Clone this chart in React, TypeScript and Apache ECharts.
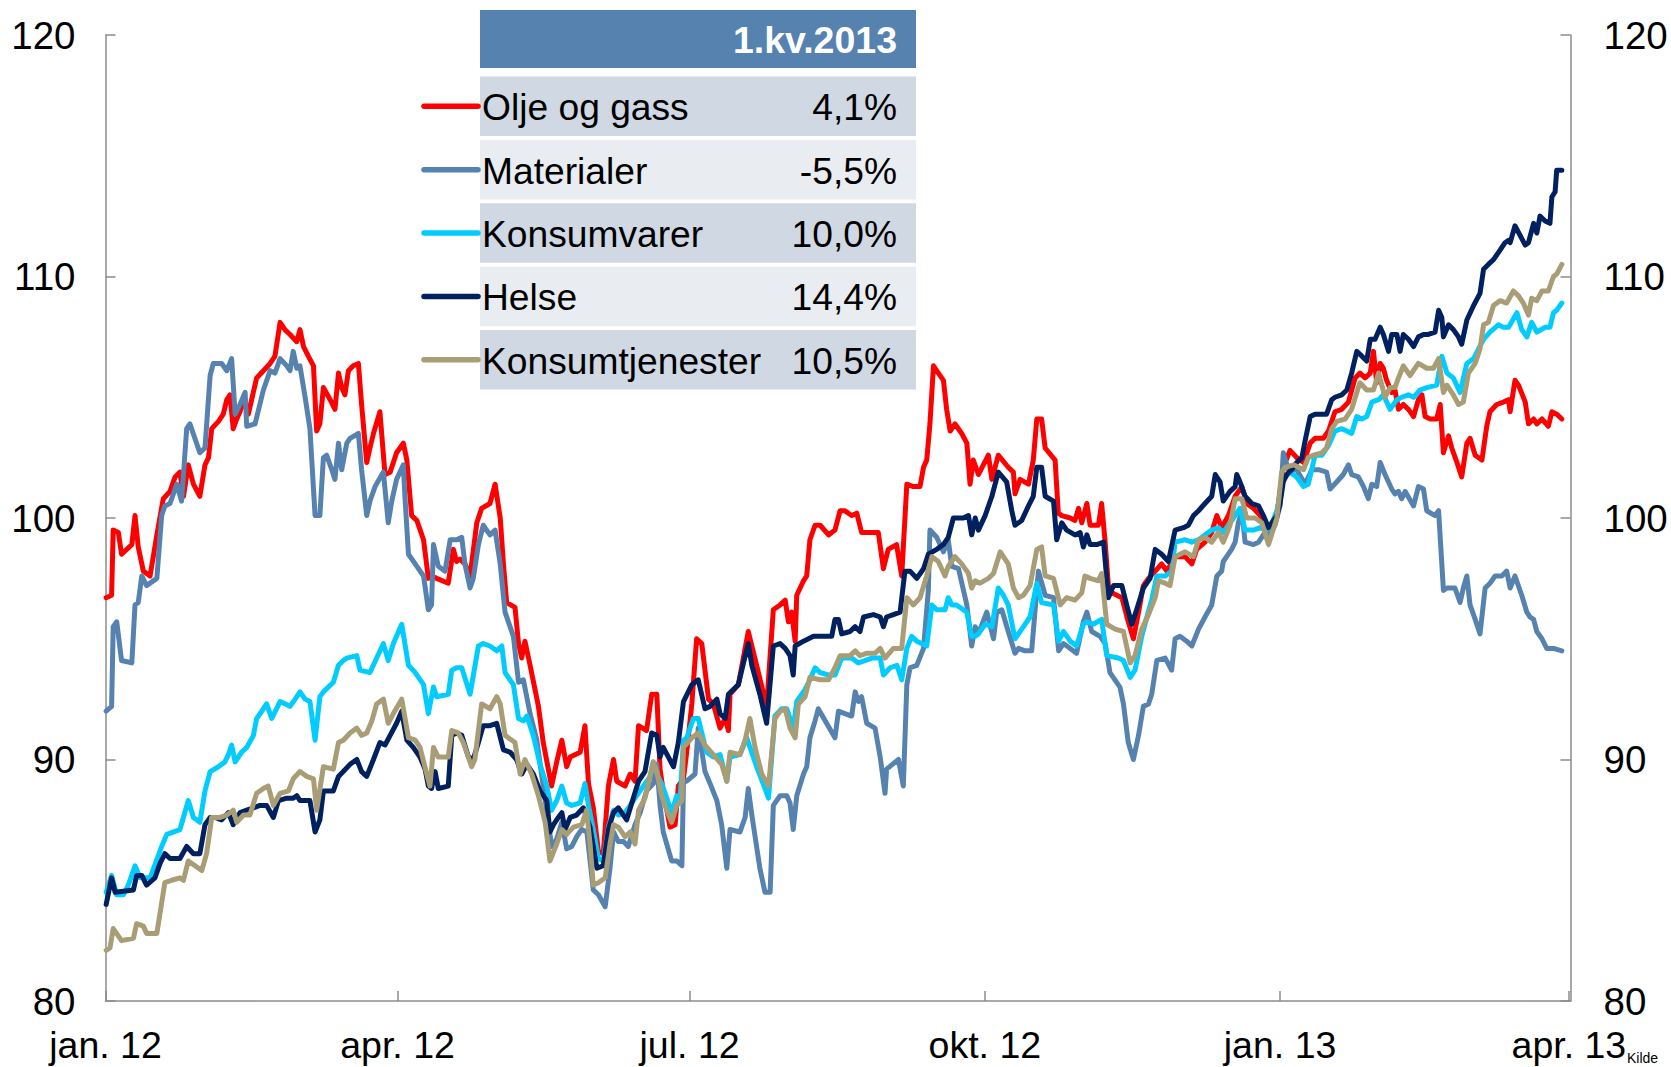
import React, { useEffect, useRef } from 'react';
import * as echarts from 'echarts';

const FONT = '"Liberation Sans", Arial, Helvetica, sans-serif';

// ---- table / legend content ----
const seriesNames = ['Olje og gass', 'Materialer', 'Konsumvarer', 'Helse', 'Konsumtjenester'];
const seriesChanges = ['4,1%', '-5,5%', '10,0%', '14,4%', '10,5%'];
const seriesColors = ['#FF0000', '#5682B0', '#00CCFF', '#002060', '#A89D75'];
const tableHeader = '1.kv.2013';
const sourceNote = 'Kilde';

// ---- axes (x = days since 1 Jan 2012) ----
const xTickDays = [0, 91, 182, 274, 366, 456];
const xTickLabels = ['jan. 12', 'apr. 12', 'jul. 12', 'okt. 12', 'jan. 13', 'apr. 13'];
const xMaxDay = 456.5;
const yMin = 80;
const yMax = 120;
const yStep = 10;

// ---- series: [day since 1 Jan 2012, index value] ----
const oljeOgGass = [
  [0.2, 96.7], [1.9, 96.8], [2.4, 99.5], [4.0, 99.4], [5.0, 98.5], [8.2, 98.9], [9.2, 100.1], [10.2, 98.8], [11.8, 97.8], [13.9, 97.6],
  [16.0, 99.3], [18.0, 100.8], [20.1, 101.1], [21.7, 101.7], [23.2, 101.9], [24.3, 100.9], [25.8, 102.2], [27.4, 101.4], [29.4, 100.9], [31.0, 102.2],
  [32.1, 102.5], [33.1, 103.7], [35.2, 104.0], [36.7, 104.3], [37.8, 104.9], [38.8, 105.1], [39.8, 103.7], [40.9, 104.1], [41.9, 104.4], [43.0, 104.9],
  [44.5, 104.3], [47.1, 105.8], [49.2, 106.1], [51.3, 106.4], [52.8, 106.7], [54.4, 108.1], [55.9, 107.8], [57.5, 107.6], [59.6, 107.3], [60.6, 107.8],
  [61.7, 107.1], [63.2, 106.7], [64.8, 106.3], [65.8, 103.6], [66.8, 103.9], [67.9, 105.4], [70.0, 104.9], [71.5, 104.5], [72.6, 106.0], [73.6, 105.4],
  [74.6, 105.1], [75.7, 106.1], [77.2, 106.3], [78.8, 106.4], [79.8, 104.7], [81.4, 102.3], [82.4, 102.9], [83.5, 103.5], [85.5, 104.4], [87.1, 101.8],
  [88.7, 101.9], [90.7, 102.7], [92.8, 103.1], [93.9, 102.4], [95.4, 100.1], [97.0, 99.9], [99.1, 99.1], [100.6, 97.5], [101.6, 97.6], [103.2, 97.5],
  [106.8, 97.3], [108.4, 98.7], [109.4, 98.2], [110.5, 98.3], [112.0, 98.1], [113.6, 97.6], [115.7, 99.8], [117.2, 100.4], [119.8, 100.6], [121.4, 101.4],
  [123.0, 100.0], [124.0, 98.1], [125.0, 96.5], [127.6, 96.3], [128.7, 94.8], [129.7, 94.2], [130.7, 94.9], [132.3, 93.9], [134.9, 92.2], [136.4, 90.7],
  [139.0, 88.9], [140.6, 89.9], [142.2, 90.8], [143.7, 89.7], [144.8, 90.1], [147.9, 90.3], [149.4, 91.4], [150.5, 89.0], [152.0, 88.0], [153.6, 86.2],
  [155.1, 86.1], [156.7, 88.9], [158.3, 90.0], [159.3, 89.1], [161.9, 88.9], [163.5, 89.4], [165.0, 89.1], [166.1, 91.4], [168.6, 91.2], [170.2, 92.7],
  [171.8, 92.7], [172.8, 89.6], [173.8, 88.7], [175.9, 87.2], [177.5, 87.3], [178.5, 88.9], [180.1, 89.2], [181.1, 90.3], [182.7, 92.3], [184.2, 95.0],
  [185.8, 94.8], [187.9, 92.5], [189.4, 92.3], [191.5, 91.3], [193.1, 91.7], [194.1, 91.2], [194.6, 92.7], [197.2, 93.1], [199.3, 94.6], [200.3, 95.3],
  [202.9, 93.9], [206.0, 92.2], [208.1, 96.2], [210.2, 96.4], [211.8, 96.6], [212.8, 95.7], [213.8, 96.1], [214.9, 94.9], [215.4, 96.8], [217.5, 97.4],
  [218.5, 97.6], [219.5, 99.1], [221.1, 99.7], [222.7, 99.7], [225.3, 99.3], [227.3, 99.5], [228.9, 100.3], [230.4, 100.3], [232.5, 100.1], [234.1, 100.2],
  [235.6, 99.4], [238.8, 99.4], [240.8, 99.4], [242.4, 97.9], [243.9, 98.7], [246.5, 98.9], [248.1, 97.6], [249.7, 101.4], [251.7, 101.3], [253.8, 101.3],
  [254.9, 102.1], [255.9, 102.4], [256.9, 103.9], [258.0, 106.3], [259.0, 106.1], [261.1, 105.7], [262.1, 104.5], [263.2, 103.6], [264.7, 103.9], [266.8, 103.5],
  [268.4, 103.1], [269.4, 101.4], [270.4, 102.4], [272.0, 101.8], [275.1, 102.6], [276.2, 101.6], [278.2, 102.6], [281.3, 102.1], [282.9, 101.9], [283.4, 101.0],
  [285.0, 101.6], [287.6, 101.4], [289.1, 102.4], [290.2, 104.1], [291.7, 104.1], [292.8, 102.9], [295.9, 102.4], [296.9, 100.2], [298.0, 100.1], [300.6, 100.0],
  [302.1, 99.9], [303.2, 100.4], [304.2, 99.8], [305.8, 100.6], [306.8, 99.7], [309.4, 99.7], [310.4, 100.6], [311.5, 99.0], [312.5, 97.2], [313.6, 96.9],
  [316.7, 96.7], [318.7, 95.7], [320.3, 95.0], [321.9, 96.1], [323.4, 97.2], [325.0, 97.5], [327.1, 97.8], [329.1, 98.1], [330.7, 97.8], [333.3, 98.4],
  [336.4, 98.4], [338.5, 98.1], [340.0, 98.7], [342.6, 99.0], [344.7, 99.4], [346.3, 100.1], [347.8, 99.6], [349.9, 100.1], [352.0, 100.9], [354.1, 101.3],
  [355.6, 100.6], [357.7, 100.4], [359.8, 100.1], [361.3, 99.7], [362.4, 99.5], [365.0, 100.1], [367.0, 102.1], [369.1, 102.8], [371.2, 102.5], [373.3, 102.3],
  [375.4, 103.1], [376.9, 103.3], [379.5, 103.3], [381.1, 103.6], [383.1, 104.4], [385.2, 104.5], [387.3, 104.8], [389.4, 105.8], [390.9, 106.0], [392.5, 105.8],
  [394.1, 106.0], [395.1, 106.9], [396.1, 105.6], [397.2, 106.4], [398.2, 106.2], [399.2, 105.7], [400.8, 105.2], [401.8, 105.3], [402.9, 104.5], [404.4, 104.7],
  [406.0, 104.5], [407.6, 104.2], [409.1, 104.9], [410.2, 105.1], [411.2, 104.2], [412.8, 104.1], [414.8, 104.1], [415.9, 104.7], [416.9, 102.7], [418.5, 103.4],
  [419.5, 102.9], [421.1, 102.3], [422.6, 101.7], [424.2, 103.1], [425.2, 103.3], [426.8, 102.6], [428.9, 102.4], [430.4, 103.8], [431.4, 104.4], [433.5, 104.7],
  [435.6, 104.8], [437.2, 104.9], [437.7, 104.4], [439.2, 105.7], [440.3, 105.5], [442.4, 104.8], [443.4, 103.9], [445.0, 104.1], [446.0, 103.9], [447.6, 104.1],
  [449.6, 103.8], [450.7, 104.4], [452.2, 104.3], [453.8, 104.1],
];

const materialer = [
  [0.2, 92.0], [1.9, 92.2], [2.4, 95.5], [3.5, 95.7], [5.0, 94.1], [8.2, 94.0], [9.2, 96.4], [10.2, 96.5], [11.3, 97.6], [12.8, 97.2],
  [16.0, 97.5], [17.5, 100.1], [18.5, 100.5], [20.1, 100.6], [22.2, 101.4], [23.7, 100.7], [25.3, 103.7], [26.3, 103.9], [29.4, 102.7], [31.0, 102.9],
  [32.6, 105.9], [33.6, 106.4], [36.2, 106.4], [37.8, 106.1], [39.3, 106.6], [40.4, 104.3], [41.9, 104.7], [43.5, 105.2], [44.0, 103.8], [46.6, 103.9],
  [49.2, 105.3], [51.3, 106.1], [52.8, 106.0], [54.4, 106.6], [56.5, 106.3], [57.5, 106.1], [58.5, 106.9], [59.6, 106.2], [60.6, 106.3], [62.2, 105.0],
  [63.7, 103.7], [65.3, 100.1], [66.8, 100.1], [67.9, 102.5], [68.9, 102.6], [70.5, 102.0], [71.5, 101.6], [72.6, 103.1], [73.6, 102.0], [75.2, 103.1],
  [76.2, 103.3], [78.8, 103.5], [79.8, 102.0], [81.4, 100.1], [82.4, 100.7], [84.0, 101.3], [86.6, 101.9], [88.1, 99.8], [89.2, 100.7], [90.7, 101.6],
  [92.8, 102.2], [93.3, 100.9], [94.4, 98.5], [96.5, 98.1], [99.1, 97.6], [100.6, 96.2], [101.6, 96.4], [102.2, 98.9], [103.7, 98.0], [105.8, 97.8],
  [107.4, 99.1], [109.4, 99.1], [111.0, 99.2], [112.0, 98.1], [113.6, 97.1], [114.6, 97.5], [116.2, 98.9], [117.7, 99.7], [119.8, 99.3], [121.4, 99.5],
  [123.0, 98.1], [124.5, 96.1], [127.1, 95.1], [128.7, 93.2], [130.2, 93.3], [132.3, 91.9], [134.4, 90.8], [136.4, 88.9], [138.0, 87.4], [139.0, 86.4],
  [140.6, 86.7], [142.2, 87.4], [143.7, 86.3], [145.3, 86.4], [146.8, 86.8], [148.4, 87.1], [150.0, 87.0], [152.0, 84.6], [153.6, 84.4], [155.7, 83.9],
  [157.2, 85.5], [158.3, 87.0], [159.8, 86.6], [161.4, 86.6], [162.9, 86.4], [165.0, 87.3], [166.6, 87.8], [168.6, 88.7], [170.7, 89.0], [171.8, 89.8],
  [172.8, 88.1], [173.8, 87.0], [176.4, 85.8], [178.0, 85.8], [179.6, 85.6], [180.1, 89.1], [181.1, 89.1], [183.7, 89.4], [184.7, 91.3], [186.8, 89.5],
  [188.4, 89.0], [190.5, 88.3], [192.0, 87.3], [193.6, 85.5], [194.6, 87.1], [197.7, 87.0], [199.3, 87.6], [200.3, 88.8], [201.4, 87.7], [203.9, 85.5],
  [205.5, 84.5], [207.1, 84.5], [208.1, 88.1], [210.2, 88.5], [212.3, 88.5], [213.3, 88.2], [214.3, 87.1], [215.4, 88.5], [217.5, 89.4], [218.5, 89.7],
  [219.5, 90.9], [221.1, 91.6], [222.1, 92.1], [224.7, 91.5], [227.3, 90.9], [228.4, 92.0], [230.4, 91.9], [232.5, 91.8], [233.6, 92.8], [234.6, 92.4],
  [235.6, 92.6], [237.2, 91.5], [239.8, 91.3], [241.4, 90.1], [242.9, 88.6], [243.4, 89.6], [247.1, 90.0], [248.6, 88.9], [249.7, 93.1], [250.7, 93.8],
  [252.8, 93.9], [254.9, 94.6], [256.4, 97.0], [256.9, 99.5], [259.0, 99.2], [261.1, 98.6], [262.6, 99.1], [263.7, 98.0], [265.8, 97.9], [268.4, 96.4],
  [269.9, 94.7], [271.0, 95.5], [272.0, 95.2], [274.6, 96.1], [276.7, 95.0], [277.7, 96.1], [279.3, 96.2], [281.3, 95.3], [283.4, 94.4], [284.5, 94.6],
  [286.5, 94.5], [288.6, 94.5], [290.7, 97.8], [292.8, 96.8], [295.4, 96.7], [297.0, 94.5], [298.5, 94.8], [300.6, 94.6], [302.6, 94.4], [304.7, 95.7],
  [305.8, 96.1], [307.3, 95.3], [309.9, 95.1], [311.5, 94.8], [313.0, 93.6], [316.1, 93.0], [317.2, 92.3], [318.7, 90.7], [320.3, 90.0], [321.9, 91.0],
  [323.4, 92.2], [325.0, 92.3], [326.0, 92.7], [327.6, 94.1], [330.2, 94.2], [332.2, 93.7], [333.3, 95.0], [334.8, 95.1], [336.9, 94.9], [338.5, 94.7],
  [340.6, 95.4], [342.6, 95.9], [344.7, 96.4], [346.3, 97.6], [347.8, 97.8], [348.3, 98.2], [350.9, 98.7], [352.0, 99.0], [353.0, 99.8], [354.1, 100.3],
  [355.1, 99.0], [357.7, 98.9], [359.3, 99.0], [361.3, 99.4], [362.9, 99.3], [364.4, 99.7], [366.0, 100.5], [367.0, 102.7], [368.6, 102.0], [371.2, 102.0],
  [373.8, 101.4], [375.9, 102.0], [378.0, 102.0], [380.5, 101.9], [381.6, 101.2], [383.7, 101.5], [385.7, 101.8], [387.3, 102.2], [388.3, 101.8], [390.4, 101.7],
  [392.0, 101.3], [393.5, 100.8], [394.6, 101.4], [396.1, 101.3], [397.2, 102.3], [398.7, 101.8], [400.8, 101.2], [401.8, 101.0], [402.9, 101.1], [403.9, 100.8],
  [405.0, 101.1], [407.6, 100.5], [409.1, 101.3], [410.7, 101.2], [411.7, 100.3], [414.3, 100.1], [415.4, 100.3], [416.9, 97.0], [418.0, 97.1], [420.5, 97.1],
  [422.1, 96.5], [423.1, 97.1], [424.2, 97.6], [425.2, 96.4], [426.8, 95.8], [428.3, 95.2], [429.9, 97.1], [431.4, 97.3], [433.0, 97.6], [435.1, 97.6],
  [436.6, 97.8], [437.7, 97.1], [439.2, 97.6], [441.3, 96.8], [442.9, 96.1], [443.9, 95.9], [445.0, 95.8], [446.0, 95.3], [447.6, 95.0], [449.1, 94.6],
  [451.2, 94.6], [453.8, 94.5],
];

const konsumvarer = [
  [0.2, 84.5], [1.9, 85.2], [3.5, 84.4], [5.6, 84.4], [7.1, 84.8], [9.2, 85.6], [10.8, 85.1], [13.9, 85.1], [17.5, 86.4], [19.1, 86.9],
  [23.2, 87.1], [25.8, 88.3], [27.4, 87.6], [29.4, 87.4], [31.0, 88.7], [32.6, 89.5], [35.2, 89.7], [37.2, 89.9], [38.3, 90.2], [39.3, 90.6],
  [40.4, 89.9], [42.4, 90.3], [44.0, 90.5], [46.1, 91.0], [47.1, 91.7], [48.7, 92.0], [50.2, 92.3], [51.8, 91.7], [54.4, 92.4], [57.5, 92.2],
  [59.1, 92.5], [60.6, 92.8], [62.2, 92.5], [63.7, 92.4], [65.3, 90.8], [66.8, 92.6], [67.9, 92.8], [71.0, 93.2], [72.6, 93.9], [74.1, 94.1],
  [75.2, 94.2], [78.3, 94.3], [79.3, 93.7], [82.4, 93.6], [84.5, 94.2], [86.6, 94.8], [88.1, 94.1], [89.7, 94.8], [92.3, 95.6], [94.4, 93.9],
  [96.5, 93.6], [99.1, 93.1], [100.6, 91.9], [102.2, 93.0], [103.2, 92.6], [106.8, 92.7], [107.9, 93.7], [109.4, 93.8], [111.0, 93.8], [113.6, 92.7],
  [116.2, 94.7], [117.7, 94.8], [119.8, 94.7], [121.9, 94.5], [123.5, 94.7], [124.5, 93.6], [127.1, 93.1], [128.7, 91.7], [130.2, 91.6], [131.3, 91.8],
  [133.3, 91.0], [135.4, 89.8], [137.5, 88.9], [139.0, 87.9], [140.6, 88.3], [142.2, 88.9], [143.7, 88.2], [145.3, 88.1], [147.9, 88.2], [149.4, 89.0],
  [150.5, 88.1], [152.0, 87.1], [153.6, 85.9], [155.1, 85.8], [156.7, 87.2], [158.3, 87.9], [159.8, 87.7], [161.9, 87.8], [163.5, 88.1], [165.5, 88.5],
  [167.6, 88.9], [169.7, 89.3], [170.7, 89.9], [171.8, 89.4], [173.3, 89.0], [174.9, 88.4], [176.4, 87.8], [178.0, 88.5], [179.0, 88.2], [180.1, 90.8],
  [181.1, 90.9], [183.2, 91.7], [184.7, 91.7], [187.3, 90.3], [189.4, 90.1], [191.5, 90.2], [193.6, 89.1], [194.6, 90.1], [197.7, 90.2], [199.8, 90.9],
  [202.9, 89.7], [205.5, 88.8], [206.6, 88.4], [208.6, 91.8], [210.7, 92.1], [212.3, 92.1], [214.3, 91.3], [215.4, 92.4], [218.0, 92.9], [219.5, 93.3],
  [221.1, 93.8], [222.7, 93.6], [225.3, 93.5], [227.3, 93.5], [229.4, 94.2], [232.5, 94.2], [234.6, 94.0], [238.8, 94.2], [241.4, 94.2], [242.4, 93.5],
  [244.5, 93.8], [246.6, 93.9], [248.1, 93.3], [249.7, 94.6], [251.2, 95.1], [252.8, 94.9], [255.9, 94.7], [257.5, 96.4], [259.0, 96.2], [261.6, 96.2],
  [262.6, 96.7], [263.7, 96.4], [265.2, 96.4], [268.4, 96.1], [269.9, 95.1], [271.0, 95.1], [272.0, 95.2], [274.1, 95.6], [276.2, 95.5], [278.2, 97.1],
  [279.8, 96.8], [281.3, 96.4], [283.4, 95.0], [285.5, 95.4], [288.1, 95.9], [290.2, 97.3], [291.7, 96.5], [295.4, 96.4], [297.0, 94.9], [298.5, 95.3],
  [300.6, 94.9], [302.6, 94.7], [304.7, 95.6], [305.8, 95.7], [307.8, 95.6], [310.4, 95.8], [312.0, 94.3], [315.6, 94.2], [317.2, 94.1], [319.3, 93.4],
  [320.8, 93.7], [322.9, 95.1], [324.5, 95.9], [326.0, 96.6], [327.6, 97.6], [330.2, 97.6], [332.2, 97.8], [333.3, 99.0], [336.4, 99.1], [338.5, 99.0],
  [340.6, 99.1], [342.6, 99.3], [344.7, 99.5], [346.8, 99.6], [348.3, 99.4], [349.9, 99.7], [352.0, 100.1], [353.5, 100.4], [355.1, 99.5], [357.7, 99.5],
  [359.8, 99.6], [361.9, 99.5], [362.9, 99.6], [365.0, 100.3], [367.0, 101.6], [369.1, 101.9], [371.2, 101.7], [373.3, 101.3], [374.8, 101.4], [376.9, 102.6],
  [379.0, 102.6], [381.1, 103.0], [383.1, 103.6], [385.2, 103.7], [386.8, 103.6], [388.3, 103.5], [389.9, 104.2], [391.5, 104.1], [393.0, 104.2], [394.6, 104.8],
  [396.7, 104.9], [398.2, 105.1], [400.3, 104.5], [402.4, 104.9], [403.9, 105.0], [406.0, 105.1], [407.6, 105.0], [409.6, 105.3], [411.7, 105.4], [414.8, 105.5],
  [416.4, 106.7], [418.0, 106.0], [420.0, 105.8], [422.1, 105.2], [424.2, 106.4], [426.3, 106.6], [429.4, 107.4], [431.4, 107.7], [434.0, 108.0], [435.6, 107.9],
  [437.2, 107.9], [439.8, 108.5], [441.3, 107.8], [442.9, 107.5], [444.4, 108.1], [446.0, 107.7], [448.6, 107.9], [450.1, 107.9], [451.2, 108.5], [452.2, 108.6],
  [453.8, 108.9],
];

const helse = [
  [0.2, 84.0], [1.9, 85.1], [3.0, 84.5], [8.7, 84.6], [9.7, 85.2], [11.3, 85.2], [12.8, 84.8], [15.4, 85.1], [17.0, 85.7], [18.5, 86.1],
  [20.1, 85.9], [23.2, 85.9], [25.3, 86.4], [27.4, 86.1], [29.4, 86.1], [31.0, 87.3], [32.6, 87.6], [34.1, 87.6], [36.2, 87.5], [38.3, 87.8],
  [39.8, 87.3], [41.9, 87.8], [44.0, 87.9], [46.1, 88.0], [48.1, 88.1], [50.2, 88.1], [52.3, 87.6], [53.9, 88.3], [56.5, 88.4], [58.5, 88.4],
  [59.6, 88.5], [60.6, 88.3], [63.7, 88.3], [65.3, 87.0], [66.8, 87.5], [67.9, 88.7], [71.0, 88.7], [72.6, 89.3], [74.1, 89.5], [76.2, 89.8],
  [78.3, 90.0], [79.8, 89.5], [81.4, 89.3], [83.5, 90.0], [85.5, 90.7], [87.1, 90.6], [88.7, 91.0], [90.7, 91.5], [92.3, 92.0], [93.9, 90.8],
  [95.9, 90.5], [98.0, 90.1], [99.6, 89.6], [100.6, 88.9], [101.6, 88.8], [102.7, 89.5], [103.7, 88.8], [106.8, 88.9], [107.9, 91.0], [109.4, 91.1],
  [111.0, 91.0], [113.1, 90.1], [114.6, 90.0], [116.2, 90.7], [117.7, 91.4], [119.8, 91.4], [121.9, 91.5], [124.0, 90.4], [126.1, 90.3], [128.1, 90.0],
  [129.7, 89.4], [131.3, 89.8], [133.3, 89.4], [135.4, 88.7], [137.5, 88.3], [138.5, 87.0], [139.6, 87.3], [141.1, 87.6], [142.2, 87.8], [143.2, 87.1],
  [144.8, 87.6], [146.8, 87.7], [148.9, 88.0], [151.0, 87.2], [153.1, 85.5], [155.1, 85.6], [156.7, 87.1], [158.3, 87.8], [159.8, 88.0], [162.4, 87.5],
  [164.0, 88.2], [166.1, 89.1], [168.1, 89.5], [170.2, 91.1], [171.8, 91.0], [172.8, 90.1], [173.8, 90.5], [175.4, 90.1], [177.0, 89.7], [178.5, 90.7],
  [180.1, 92.4], [182.7, 93.1], [184.7, 93.3], [186.8, 92.1], [188.4, 92.2], [190.5, 92.5], [191.5, 91.9], [193.1, 91.7], [194.1, 92.7], [197.2, 93.1],
  [198.8, 94.0], [200.3, 94.8], [201.4, 93.9], [203.9, 92.7], [206.0, 91.5], [208.1, 94.7], [210.2, 94.8], [211.8, 94.6], [213.3, 94.3], [214.3, 93.5],
  [214.9, 94.7], [217.5, 94.9], [220.6, 95.1], [224.7, 95.1], [226.3, 95.1], [227.3, 95.8], [228.4, 95.8], [229.4, 95.2], [232.0, 95.3], [233.6, 95.5],
  [235.1, 95.3], [236.2, 95.9], [239.3, 96.0], [241.4, 95.9], [242.4, 95.5], [243.4, 95.9], [245.5, 96.0], [247.6, 96.1], [249.1, 97.8], [250.7, 97.8],
  [252.8, 97.5], [254.9, 97.9], [256.4, 98.5], [259.0, 98.7], [261.1, 98.9], [262.6, 99.2], [264.2, 100.0], [267.3, 100.0], [268.9, 100.1], [269.9, 99.3],
  [271.0, 100.0], [272.0, 99.5], [274.1, 100.1], [276.2, 100.9], [278.2, 101.9], [280.8, 101.5], [282.4, 100.3], [283.4, 99.7], [285.5, 99.9], [287.6, 100.5],
  [289.1, 100.9], [290.2, 102.1], [291.7, 102.1], [292.8, 100.9], [295.4, 100.7], [296.4, 99.1], [298.0, 99.8], [299.5, 99.5], [302.1, 99.3], [303.7, 99.4],
  [304.7, 98.8], [305.8, 99.3], [306.8, 98.9], [308.9, 98.9], [311.0, 99.0], [312.5, 96.7], [314.1, 97.2], [316.7, 97.2], [318.2, 96.4], [319.8, 95.6],
  [321.3, 96.2], [323.4, 97.1], [325.5, 97.5], [327.1, 98.7], [329.1, 98.5], [331.2, 98.2], [333.3, 99.5], [335.9, 99.6], [337.4, 99.7], [339.0, 100.1],
  [340.6, 100.3], [342.6, 100.6], [344.7, 100.9], [345.8, 101.8], [347.3, 101.5], [348.3, 100.7], [350.4, 101.1], [352.0, 101.3], [352.5, 101.8], [353.5, 101.5],
  [355.1, 100.9], [357.2, 100.6], [359.3, 100.5], [360.8, 100.1], [362.4, 99.6], [365.0, 100.1], [366.0, 100.6], [367.0, 101.5], [368.1, 101.8], [369.6, 102.0],
  [371.2, 102.3], [372.8, 102.5], [373.8, 103.2], [375.4, 104.2], [376.9, 104.3], [380.5, 104.3], [382.1, 104.9], [383.1, 105.0], [385.2, 105.1], [386.8, 105.3],
  [388.3, 106.0], [389.9, 106.9], [391.5, 106.7], [393.0, 106.5], [394.1, 107.4], [395.6, 107.4], [397.2, 107.9], [398.2, 107.6], [399.8, 106.9], [400.8, 107.6],
  [402.4, 107.6], [403.4, 106.9], [404.4, 107.6], [406.0, 107.4], [407.6, 107.1], [409.1, 107.5], [410.7, 107.6], [412.2, 107.6], [414.3, 107.7], [415.4, 108.6],
  [416.4, 108.3], [416.9, 107.5], [418.5, 108.0], [420.0, 107.8], [421.6, 107.5], [422.6, 107.2], [424.2, 108.2], [426.3, 108.8], [428.3, 109.3], [429.4, 110.3],
  [430.9, 110.5], [432.5, 110.7], [434.6, 111.1], [436.1, 111.4], [437.2, 111.5], [437.7, 111.4], [439.2, 112.1], [440.8, 111.7], [442.4, 111.3], [443.4, 111.4],
  [445.0, 112.2], [446.0, 111.8], [447.0, 112.5], [448.6, 112.3], [450.1, 112.2], [450.7, 113.3], [451.7, 113.5], [452.2, 114.4], [453.8, 114.4],
];

const konsumtjenester = [
  [0.2, 82.1], [1.4, 82.2], [2.4, 83.0], [5.0, 82.5], [8.7, 82.6], [9.7, 83.2], [11.8, 83.1], [12.8, 82.8], [16.0, 82.8], [18.5, 84.9],
  [20.6, 85.0], [23.2, 85.1], [24.3, 85.0], [25.8, 85.8], [27.9, 85.6], [30.0, 85.4], [31.5, 86.1], [33.1, 87.6], [35.7, 87.6], [37.8, 87.7],
  [39.8, 87.9], [40.9, 87.4], [43.0, 87.7], [45.0, 87.7], [47.1, 88.6], [49.2, 88.8], [50.7, 88.9], [52.3, 88.1], [54.4, 88.6], [57.0, 88.7],
  [58.5, 89.2], [60.6, 89.5], [62.7, 89.3], [64.8, 89.2], [65.8, 87.9], [67.9, 89.7], [71.0, 89.6], [72.6, 90.7], [74.1, 90.8], [76.2, 91.1],
  [78.3, 91.3], [79.8, 91.0], [81.4, 91.1], [83.0, 91.6], [84.5, 92.3], [86.6, 92.5], [88.1, 91.5], [89.7, 91.9], [92.3, 92.5], [94.4, 90.9],
  [96.5, 90.8], [98.0, 90.5], [100.1, 89.4], [101.1, 88.9], [102.2, 90.5], [103.7, 90.1], [106.8, 90.1], [107.9, 91.2], [109.9, 91.1], [111.5, 90.7],
  [114.1, 89.7], [115.1, 90.0], [117.2, 92.3], [119.8, 92.1], [121.9, 92.6], [123.0, 92.3], [124.5, 91.0], [127.6, 90.7], [129.2, 89.4], [130.7, 90.0],
  [132.8, 89.4], [134.9, 88.5], [137.0, 87.4], [138.5, 85.8], [140.6, 86.5], [142.2, 87.1], [143.7, 86.9], [145.8, 87.2], [148.4, 87.3], [149.9, 87.9],
  [151.0, 86.5], [152.0, 84.8], [153.6, 84.9], [155.7, 85.1], [157.2, 86.5], [158.3, 87.3], [159.8, 87.2], [161.9, 86.8], [163.5, 87.0], [165.0, 86.5],
  [166.1, 87.9], [168.1, 88.4], [170.7, 89.9], [171.8, 89.5], [173.3, 88.5], [174.9, 87.9], [176.4, 87.4], [178.0, 88.1], [179.6, 88.3], [180.1, 90.5],
  [182.7, 90.9], [184.7, 91.1], [186.8, 90.6], [189.4, 90.2], [192.0, 89.8], [193.6, 89.1], [194.6, 90.3], [197.7, 90.2], [199.3, 90.8], [200.8, 91.7],
  [202.4, 90.5], [204.5, 89.4], [206.6, 88.9], [208.6, 91.7], [210.2, 92.0], [211.8, 92.1], [213.3, 91.3], [214.9, 90.9], [215.9, 92.3], [218.0, 92.6],
  [219.5, 93.4], [222.7, 93.3], [225.3, 93.3], [227.3, 93.8], [228.9, 94.3], [232.0, 94.3], [233.6, 94.5], [235.1, 94.3], [237.2, 94.4], [239.8, 94.4],
  [241.4, 94.6], [242.9, 94.2], [245.5, 94.6], [248.1, 94.6], [249.7, 96.7], [251.7, 96.4], [253.8, 96.7], [255.9, 97.6], [257.5, 98.4], [259.5, 98.2],
  [261.6, 97.6], [262.6, 98.0], [264.7, 98.4], [266.8, 98.1], [268.9, 97.7], [269.9, 97.1], [271.0, 97.4], [272.5, 97.3], [275.1, 97.5], [276.7, 97.7],
  [278.8, 98.6], [281.3, 98.1], [282.9, 97.1], [284.5, 96.7], [286.0, 96.8], [288.1, 97.2], [290.2, 98.7], [291.7, 98.8], [292.8, 97.6], [295.4, 97.5],
  [297.5, 96.4], [299.5, 96.7], [302.1, 96.6], [304.2, 96.9], [305.2, 97.6], [306.8, 97.5], [309.4, 97.4], [310.4, 97.7], [312.0, 95.6], [314.6, 95.4],
  [317.2, 95.3], [319.3, 94.0], [320.8, 94.3], [322.9, 95.4], [325.0, 96.0], [327.1, 96.7], [328.1, 97.4], [330.2, 97.3], [331.7, 97.2], [333.3, 98.4],
  [336.4, 98.6], [339.0, 98.4], [340.6, 99.1], [342.6, 99.2], [344.7, 99.0], [346.8, 99.4], [348.3, 99.0], [350.4, 99.7], [352.0, 100.8], [354.1, 100.8],
  [355.6, 100.0], [358.2, 100.0], [360.3, 99.8], [362.4, 98.9], [365.0, 100.0], [366.5, 101.9], [367.6, 102.1], [370.2, 102.2], [373.3, 102.0], [374.8, 102.5],
  [376.4, 102.6], [379.0, 102.7], [380.5, 102.9], [382.1, 103.7], [383.7, 104.0], [386.3, 104.1], [388.3, 104.5], [389.9, 105.2], [390.9, 105.6], [393.0, 105.3],
  [395.1, 105.3], [396.7, 106.0], [398.7, 105.0], [400.3, 105.4], [401.8, 105.4], [402.9, 105.8], [404.4, 106.3], [406.5, 105.9], [409.1, 106.4], [411.7, 106.2],
  [413.8, 106.2], [415.4, 106.6], [416.9, 105.2], [418.0, 105.5], [420.0, 105.1], [421.6, 104.7], [423.1, 104.8], [424.7, 106.0], [426.8, 106.4], [428.3, 107.0],
  [429.4, 108.0], [430.9, 108.1], [432.5, 108.8], [434.6, 109.0], [436.6, 108.9], [438.7, 109.4], [440.3, 109.2], [441.8, 108.9], [443.4, 108.4], [444.4, 109.1],
  [446.0, 109.0], [447.6, 109.4], [449.6, 109.4], [451.2, 110.0], [452.2, 110.1], [453.8, 110.5],
];

const seriesData = [oljeOgGass, materialer, konsumvarer, helse, konsumtjenester];

export default function App() {
  const ref = useRef<HTMLDivElement>(null);

  useEffect(() => {
    if (!ref.current) return;
    const chart = echarts.init(ref.current, undefined, { renderer: 'svg' });

    const axisColor = '#8C8C8C';
    const tableLeft = 480;
    const tableRight = 916;
    const rowTop0 = 76.5;
    const rowPitch = 63.4;
    const rowH = 59.5;

    const graphics: any[] = [];
    graphics.push({
      type: 'rect',
      shape: { x: tableLeft, y: 10, width: tableRight - tableLeft, height: 58 },
      style: { fill: '#5682B0' },
      silent: true,
    });
    graphics.push({
      type: 'text',
      x: 897,
      y: 40,
      style: {
        text: tableHeader,
        fill: '#FFFFFF',
        fontSize: 37.5,
        fontWeight: 'bold',
        fontFamily: FONT,
        align: 'right',
        verticalAlign: 'middle',
      },
      silent: true,
    });
    seriesNames.forEach((name, i) => {
      const top = rowTop0 + i * rowPitch;
      const mid = top + rowH / 2;
      graphics.push({
        type: 'rect',
        shape: { x: tableLeft, y: top, width: tableRight - tableLeft, height: rowH },
        style: { fill: i % 2 === 0 ? '#D0D8E4' : '#E9EDF2' },
        silent: true,
      });
      graphics.push({
        type: 'line',
        shape: { x1: 424, y1: mid, x2: 478, y2: mid },
        style: { stroke: seriesColors[i], lineWidth: 5.5, lineCap: 'round' },
        silent: true,
      });
      graphics.push({
        type: 'text',
        x: 482,
        y: mid + 1,
        style: {
          text: name,
          fill: '#000000',
          fontSize: 37.2,
          fontFamily: FONT,
          align: 'left',
          verticalAlign: 'middle',
        },
        silent: true,
      });
      graphics.push({
        type: 'text',
        x: 897,
        y: mid + 1,
        style: {
          text: seriesChanges[i],
          fill: '#000000',
          fontSize: 37.2,
          fontFamily: FONT,
          align: 'right',
          verticalAlign: 'middle',
        },
        silent: true,
      });
    });
    graphics.push({
      type: 'text',
      x: 1627,
      y: 1051,
      style: {
        text: sourceNote,
        fill: '#000000',
        fontSize: 14,
        fontFamily: FONT,
        align: 'left',
        verticalAlign: 'top',
      },
      silent: true,
    });

    const yAxisBase = (position: 'left' | 'right', margin: number) => ({
      type: 'value',
      position,
      min: yMin,
      max: yMax,
      interval: yStep,
      axisLine: { show: true, onZero: false, lineStyle: { color: axisColor, width: 1.5 } },
      axisTick: { show: true, inside: true, length: 10, lineStyle: { color: axisColor, width: 1.5 } },
      axisLabel: {
        show: true,
        margin,
        fontSize: 38.5,
        fontFamily: FONT,
        color: '#000000',
      },
      splitLine: { show: false },
    });

    chart.setOption({
      animation: false,
      backgroundColor: '#FFFFFF',
      grid: { left: 105.5, right: 100.5, top: 35, bottom: 66, containLabel: false },
      xAxis: {
        type: 'value',
        min: 0,
        max: xMaxDay,
        axisLine: { show: true, onZero: false, lineStyle: { color: axisColor, width: 1.5 } },
        axisTick: {
          show: true,
          inside: true,
          length: 10,
          customValues: xTickDays,
          lineStyle: { color: axisColor, width: 1.5 },
        },
        axisLabel: {
          show: true,
          customValues: xTickDays,
          margin: 25,
          fontSize: 37.5,
          fontFamily: FONT,
          color: '#000000',
          formatter: (v: number) => {
            const idx = xTickDays.indexOf(Math.round(v));
            return idx >= 0 ? xTickLabels[idx] : '';
          },
        },
        splitLine: { show: false },
      },
      yAxis: [yAxisBase('left', 30), yAxisBase('right', 33)],
      series: seriesNames.map((name, i) => ({
        name,
        type: 'line',
        yAxisIndex: 0,
        data: seriesData[i],
        showSymbol: false,
        symbol: 'none',
        lineStyle: { color: seriesColors[i], width: 5, join: 'round', cap: 'round' },
        itemStyle: { color: seriesColors[i] },
        emphasis: { disabled: true },
        z: 2 + i,
      })),
      graphic: graphics,
    });

    return () => {
      chart.dispose();
    };
  }, []);

  return (
    <div
      ref={ref}
      style={{ position: 'absolute', left: 0, top: 0, width: 1671, height: 1067, background: '#FFFFFF' }}
    />
  );
}
